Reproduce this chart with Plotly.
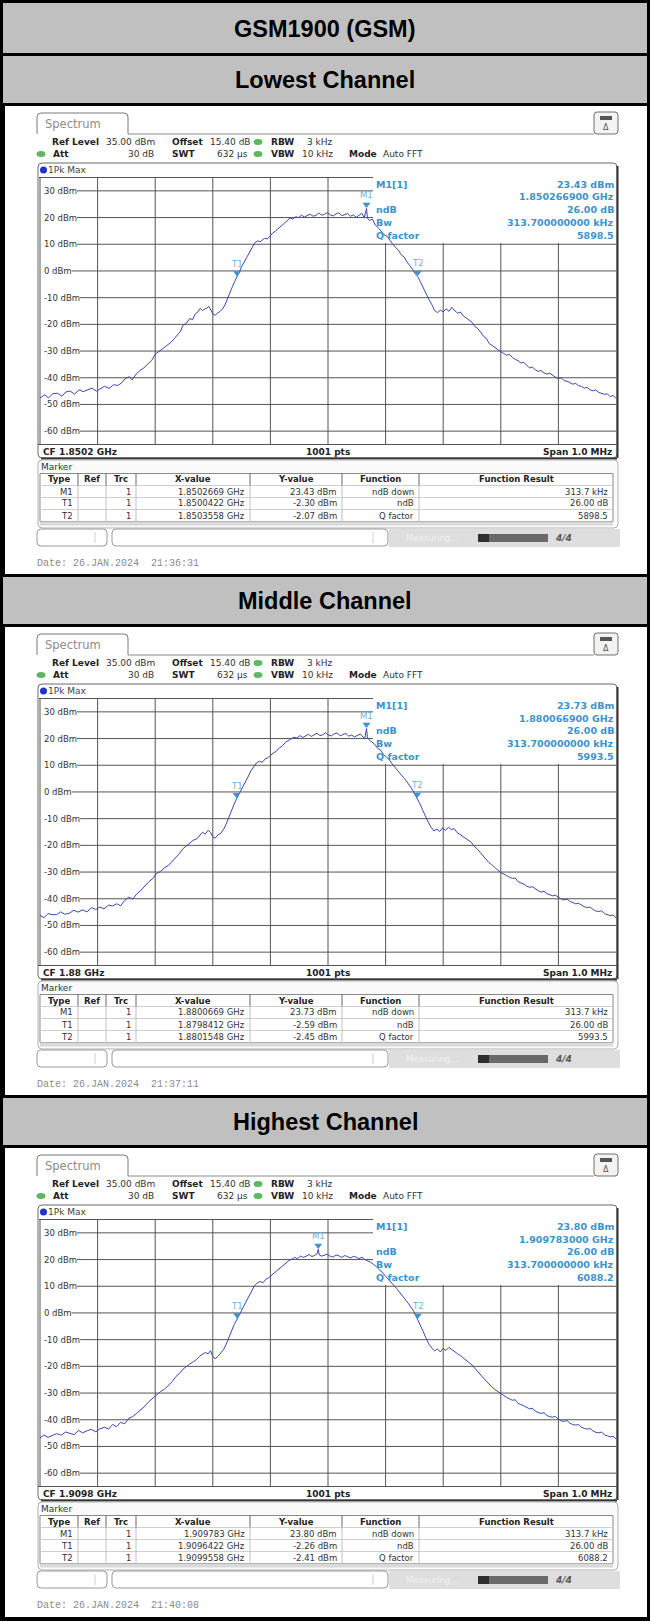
import plotly.graph_objects as go

# ======================= DATA =======================
MAIN_TITLE = "GSM1900 (GSM)"
PANEL_TITLES = ["Lowest Channel", "Middle Channel", "Highest Channel"]
CF_LABELS = ["CF 1.8502 GHz", "CF 1.88 GHz", "CF 1.9098 GHz"]
POINTS_LABEL = "1001 pts"
SPAN_LABEL = "Span 1.0 MHz"
DATES = ["Date: 26.JAN.2024  21:36:31", "Date: 26.JAN.2024  21:37:11", "Date: 26.JAN.2024  21:40:08"]

REF_LEVEL = 35
Y_BOTTOM = -65
Y_TICKS = [30, 20, 10, 0, -10, -20, -30, -40, -50, -60]
Y_TICK_LABELS = ["30 dBm", "20 dBm", "10 dBm", "0 dBm", "-10 dBm", "-20 dBm",
                 "-30 dBm", "-40 dBm", "-50 dBm", "-60 dBm"]
X_TICKS_KHZ = [-400, -300, -200, -100, 0, 100, 200, 300, 400]

# trace 1 (Lowest) : offset from CF in kHz, level in dBm
LOW_F = [-500, -492, -485, -478, -470, -462, -455, -448, -440, -432, -425, -418, -410, -402, -395,
         -388, -380, -372, -365, -358, -352, -345, -340, -333, -326, -320, -313, -306, -300, -294,
         -288, -281, -274, -268, -262, -256, -252, -246, -240, -235, -231, -226, -222, -218, -214,
         -210, -207, -204, -200, -196, -192, -187, -183, -179, -175, -171, -166, -162, -157.8, -154,
         -150, -146, -141, -136, -131, -127, -122, -118, -114, -110, -105, -101, -96, -91, -86,
         -81, -76, -71, -66, -61, -56, -51, -46, -41, -36, -31, -26, -21, -16, -11,
         -6, -1, 4, 9, 14, 19, 24, 29, 34, 39, 44, 49, 54, 59, 63,
         66.9, 68.5, 72, 77, 82, 87, 92, 97, 102, 107, 112, 117, 122, 127, 132,
         137, 142, 147, 152, 155.8, 160, 165, 170, 175, 180, 185, 190, 195, 200, 205,
         210, 215, 220, 225, 230, 235, 240, 245, 250, 255, 260, 265, 270, 275, 280,
         285, 290, 295, 300, 305, 310, 315, 320, 325, 330, 335, 340, 345, 350, 355,
         360, 365, 370, 375, 380, 385, 390, 395, 400, 405, 410, 415, 420, 425, 430,
         435, 440, 445, 450, 455, 460, 465, 470, 475, 480, 485, 490, 495, 500]
LOW_DB = [-47.6, -46.4, -47.5, -46.0, -45.8, -46.9, -45.3, -45.0, -46.1, -44.5, -45.2, -44.7, -43.9, -45.0, -44.1,
          -43.2, -44.0, -42.6, -42.9, -41.9, -40.3, -39.6, -40.8, -38.6, -37.2, -36.4, -34.8, -33.5, -31.2, -30.4,
          -29.3, -28.1, -27.0, -25.6, -23.9, -22.6, -20.4, -19.6, -17.8, -18.3, -16.2, -15.4, -14.0, -14.8, -14.3,
          -13.9, -13.2, -14.6, -16.0, -16.7, -15.8, -15.1, -14.2, -12.8, -10.5, -8.6, -5.9, -3.9, -2.30, -0.4,
          1.6, 3.1, 5.3, 7.4, 9.2, 10.6, 11.3, 10.9, 11.6, 12.2, 12.0, 13.1, 14.2, 15.0, 15.8,
          16.9, 17.8, 18.9, 19.8, 19.4, 20.3, 20.0, 20.9, 20.2, 20.6, 21.3, 20.5, 20.8, 21.7, 20.9,
          21.2, 21.9, 21.0, 20.6, 21.4, 21.8, 20.7, 21.2, 21.5, 20.5, 21.0, 20.1, 20.9, 21.6, 19.9,
          23.43, 19.8, 18.9, 19.4, 17.2, 16.3, 14.8, 13.6, 13.1, 11.4, 10.2, 8.9, 7.8, 6.1, 5.2,
          3.4, 2.1, 0.6, -1.2, -2.07, -3.9, -6.3, -8.4, -10.6, -12.5, -14.8, -15.6, -14.7, -15.3, -14.2,
          -15.1, -13.6, -14.9, -15.8, -15.4, -16.9, -17.6, -18.3, -19.2, -20.8, -21.6, -22.9, -24.5, -25.3, -27.2,
          -27.9, -28.8, -29.6, -30.3, -30.9, -31.6, -31.2, -32.4, -33.1, -33.6, -34.5, -34.2, -35.4, -36.3, -36.0,
          -37.1, -37.6, -37.3, -38.2, -38.6, -38.3, -39.2, -39.8, -40.3, -40.0, -41.1, -41.3, -41.8, -42.4, -42.1,
          -43.0, -43.2, -43.9, -43.6, -44.5, -44.9, -44.6, -45.5, -45.9, -46.2, -46.0, -47.1, -46.6, -47.8]

# trace 2 (Middle)
MID_F = [-500, -493, -486, -479, -471, -464, -457, -449, -441, -434, -426, -418, -411, -403, -396,
         -389, -381, -374, -367, -360, -353, -346, -339, -332, -325, -318, -311, -304, -298, -291,
         -284, -277, -270, -264, -258, -252, -246, -240, -234, -228, -223, -218, -213, -208, -204,
         -200, -196, -191, -186, -181, -177, -173, -168, -163, -158.8, -154, -149, -144, -139, -134,
         -129, -124, -119, -114, -109, -104, -99, -94, -89, -84, -79, -74, -69, -64, -59,
         -54, -49, -44, -39, -34, -29, -24, -19, -14, -9, -4, 1, 6, 11, 16,
         21, 26, 31, 36, 41, 46, 51, 56, 61, 64, 66.9, 68.5, 72, 76, 81,
         86, 91, 96, 101, 106, 111, 116, 121, 126, 131, 136, 141, 146, 150, 154.8,
         159, 164, 169, 174, 179, 184, 189, 194, 199, 204, 209, 214, 219, 224, 229,
         234, 239, 244, 249, 254, 259, 264, 269, 274, 279, 284, 289, 294, 300, 305,
         310, 315, 320, 325, 330, 335, 340, 345, 350, 355, 360, 365, 370, 375, 380,
         385, 390, 395, 400, 405, 410, 415, 420, 425, 430, 435, 440, 445, 450, 455,
         460, 465, 470, 475, 480, 485, 490, 495, 500]
MID_DB = [-46.2, -47.1, -45.5, -46.0, -45.9, -44.9, -45.8, -45.4, -44.3, -45.0, -44.2, -44.9, -43.3, -44.0, -43.1,
          -43.8, -42.4, -42.7, -41.9, -42.6, -40.6, -39.4, -40.1, -38.2, -36.9, -35.1, -33.6, -32.4, -30.6, -29.8,
          -28.4, -27.5, -25.9, -24.2, -23.1, -21.3, -20.2, -19.4, -18.1, -17.6, -16.4, -15.1, -15.8, -14.3, -15.2,
          -16.8, -17.3, -16.1, -15.4, -13.9, -12.1, -9.8, -7.2, -4.6, -2.59, -0.7, 1.2, 3.5, 5.6, 7.9,
          9.6, 10.9, 11.5, 11.1, 12.4, 12.8, 13.9, 14.6, 15.4, 16.6, 17.3, 18.6, 19.2, 19.9, 20.5,
          20.2, 21.1, 20.4, 20.9, 21.6, 20.8, 21.3, 22.0, 21.1, 21.4, 22.2, 21.3, 21.0, 21.8, 22.1,
          21.0, 21.5, 21.9, 20.9, 21.3, 20.6, 21.2, 21.7, 20.5, 20.2, 23.73, 20.3, 19.4, 18.6, 17.9,
          16.4, 15.7, 14.1, 13.3, 12.2, 10.6, 9.4, 8.1, 6.9, 5.4, 4.1, 2.7, 1.0, -0.6, -2.45,
          -4.2, -6.6, -9.1, -11.3, -13.2, -14.6, -13.9, -14.8, -13.5, -14.4, -13.2, -14.1, -13.7, -15.2, -15.9,
          -16.6, -17.4, -18.2, -18.9, -20.4, -21.3, -22.6, -23.9, -25.1, -26.4, -27.2, -28.3, -29.1, -30.2, -30.6,
          -31.3, -31.9, -32.4, -32.2, -33.6, -34.1, -34.5, -35.3, -35.7, -35.5, -36.4, -37.0, -37.5, -37.2, -38.1,
          -38.6, -38.9, -38.7, -39.5, -40.1, -40.4, -40.2, -41.0, -41.6, -41.9, -41.7, -42.5, -43.0, -43.3, -43.1,
          -44.0, -44.6, -44.8, -44.5, -45.6, -45.9, -46.3, -46.1, -47.1]

# trace 3 (Highest)
HIGH_F = [-500, -493, -486, -478, -471, -463, -456, -448, -441, -433, -426, -418, -411, -403, -396,
          -388, -381, -374, -367, -360, -353, -346, -339, -332, -325, -318, -311, -304, -298, -291,
          -284, -277, -270, -264, -258, -252, -246, -240, -234, -228, -223, -218, -213, -208, -204,
          -200, -196, -191, -186, -181, -177, -173, -168, -163, -157.8, -153, -148, -143, -138, -133,
          -128, -123, -118, -113, -108, -103, -98, -93, -88, -83, -78, -73, -68, -63, -58,
          -53, -48, -43, -38, -33, -28, -23, -19, -17, -15, -11, -6, -1, 4, 9,
          14, 19, 24, 29, 34, 39, 44, 49, 54, 59, 64, 69, 74, 79, 84,
          89, 94, 99, 104, 109, 114, 119, 124, 129, 134, 139, 144, 149, 152, 155.8,
          160, 165, 170, 175, 180, 185, 190, 195, 200, 205, 210, 215, 220, 225, 230,
          235, 240, 245, 250, 255, 260, 265, 270, 275, 280, 285, 290, 295, 300, 305,
          310, 315, 320, 325, 330, 335, 340, 345, 350, 355, 360, 365, 370, 375, 380,
          385, 390, 395, 400, 405, 410, 415, 420, 425, 430, 435, 440, 445, 450, 455,
          460, 465, 470, 475, 480, 485, 490, 495, 500]
HIGH_DB = [-46.8, -45.7, -46.6, -45.9, -45.2, -45.8, -44.6, -45.1, -45.6, -44.0, -44.9, -44.1, -43.6, -44.5, -43.4,
           -42.8, -43.5, -41.8, -42.6, -41.0, -41.5, -39.5, -38.8, -37.6, -36.3, -34.9, -33.2, -31.9, -30.8, -29.5,
           -28.6, -27.2, -25.6, -23.8, -22.7, -21.1, -20.0, -19.1, -18.3, -17.4, -16.2, -15.6, -14.8, -15.3, -14.1,
           -16.4, -17.1, -16.3, -15.0, -13.6, -11.8, -9.5, -6.9, -4.4, -2.26, -0.2, 1.9, 3.8, 6.0, 8.2,
           10.1, 11.2, 11.8, 11.3, 12.6, 13.2, 14.1, 15.2, 16.0, 17.1, 18.0, 18.7, 19.6, 20.1, 20.8,
           20.3, 21.3, 20.8, 21.2, 21.9, 21.1, 21.6, 22.1, 23.80, 21.7, 21.3, 21.8, 22.0, 21.2, 20.9,
           21.7, 21.4, 20.8, 21.5, 21.1, 20.6, 21.2, 20.9, 20.3, 20.9, 20.0, 19.6, 19.0, 18.2, 17.4,
           16.2, 15.3, 14.0, 12.9, 11.7, 10.3, 9.2, 7.8, 6.6, 5.1, 3.7, 2.2, 0.6, -0.8, -2.41,
           -4.3, -6.8, -9.4, -11.6, -13.1, -14.2, -13.5, -14.6, -13.3, -14.0, -12.9, -13.8, -14.6, -15.3, -16.0,
           -16.8, -17.7, -18.6, -19.5, -20.7, -21.8, -23.0, -24.4, -25.6, -26.9, -27.8, -28.7, -29.5, -30.4, -30.9,
           -31.6, -32.1, -32.7, -32.5, -33.9, -34.3, -34.8, -35.6, -35.9, -35.7, -36.8, -37.3, -37.6, -37.4, -38.4,
           -38.9, -39.0, -38.8, -39.8, -40.4, -40.6, -40.3, -41.3, -41.8, -42.0, -41.8, -42.8, -43.2, -43.5, -43.3,
           -44.2, -44.7, -44.9, -44.6, -45.7, -46.0, -46.4, -46.2, -47.2]

TRACES_F = [LOW_F, MID_F, HIGH_F]
TRACES_DB = [LOW_DB, MID_DB, HIGH_DB]

# markers (offset kHz from CF, level dBm)
MARKER_NAMES = ["M1", "T1", "T2"]
LOW_MARK_F = [66.9, -157.8, 155.8]
LOW_MARK_DB = [23.43, -2.30, -2.07]
MID_MARK_F = [66.9, -158.8, 154.8]
MID_MARK_DB = [23.73, -2.59, -2.45]
HIGH_MARK_F = [-17.0, -157.8, 155.8]
HIGH_MARK_DB = [23.80, -2.26, -2.41]
MARK_F = [LOW_MARK_F, MID_MARK_F, HIGH_MARK_F]
MARK_DB = [LOW_MARK_DB, MID_MARK_DB, HIGH_MARK_DB]

INFO_LABELS = ["M1[1]", "", "ndB", "Bw", "Q factor"]
LOW_INFO = ["23.43 dBm", "1.850266900 GHz", "26.00 dB", "313.700000000 kHz", "5898.5"]
MID_INFO = ["23.73 dBm", "1.880066900 GHz", "26.00 dB", "313.700000000 kHz", "5993.5"]
HIGH_INFO = ["23.80 dBm", "1.909783000 GHz", "26.00 dB", "313.700000000 kHz", "6088.2"]
INFO = [LOW_INFO, MID_INFO, HIGH_INFO]

TABLE_HEAD = ["Type", "Ref", "Trc", "X-value", "Y-value", "Function", "Function Result"]
LOW_ROWS = [["M1", "", "1", "1.8502669 GHz", "23.43 dBm", "ndB down", "313.7 kHz"],
            ["T1", "", "1", "1.8500422 GHz", "-2.30 dBm", "ndB", "26.00 dB"],
            ["T2", "", "1", "1.8503558 GHz", "-2.07 dBm", "Q factor", "5898.5"]]
MID_ROWS = [["M1", "", "1", "1.8800669 GHz", "23.73 dBm", "ndB down", "313.7 kHz"],
            ["T1", "", "1", "1.8798412 GHz", "-2.59 dBm", "ndB", "26.00 dB"],
            ["T2", "", "1", "1.8801548 GHz", "-2.45 dBm", "Q factor", "5993.5"]]
HIGH_ROWS = [["M1", "", "1", "1.909783 GHz", "23.80 dBm", "ndB down", "313.7 kHz"],
             ["T1", "", "1", "1.9096422 GHz", "-2.26 dBm", "ndB", "26.00 dB"],
             ["T2", "", "1", "1.9099558 GHz", "-2.41 dBm", "Q factor", "6088.2"]]
ROWS = [LOW_ROWS, MID_ROWS, HIGH_ROWS]

# ======================= LAYOUT HELPERS =======================
W, H = 650, 1621
STEP = 521
GX0, GX1 = 40, 616          # grid area (px)
GY0, GY1 = 177.5, 444.5
BLANK_X, BLANK_Y = 373, 243  # marker-info region (no grid)

UI = "DejaVu Sans"
TRACE_COLOR = "#3848ad"
MARK_COLOR = "#3b95cf"
INFO_COLOR = "#3d93c8"
GRID = "#555555"

def X(p):
    return p / W

def Y(p):
    return 1 - p / H

shapes, annos = [], []

def rect(x0, y0, x1, y1, fill, line=None, lw=0):
    shapes.append(dict(type="rect", xref="paper", yref="paper", layer="below",
                       x0=X(x0), x1=X(x1), y0=Y(y1), y1=Y(y0), fillcolor=fill,
                       line=dict(color=line or "rgba(0,0,0,0)", width=lw)))

def seg(x0, y0, x1, y1, color, lw=1):
    shapes.append(dict(type="line", xref="paper", yref="paper", layer="below",
                       x0=X(x0), x1=X(x1), y0=Y(y0), y1=Y(y1),
                       line=dict(color=color, width=lw)))

def rbox(x0, y0, x1, y1, r, fill, line, lw=1):
    d = (f"M{X(x0 + r)},{Y(y0)} L{X(x1 - r)},{Y(y0)} Q{X(x1)},{Y(y0)} {X(x1)},{Y(y0 + r)} "
         f"L{X(x1)},{Y(y1 - r)} Q{X(x1)},{Y(y1)} {X(x1 - r)},{Y(y1)} L{X(x0 + r)},{Y(y1)} "
         f"Q{X(x0)},{Y(y1)} {X(x0)},{Y(y1 - r)} L{X(x0)},{Y(y0 + r)} Q{X(x0)},{Y(y0)} {X(x0 + r)},{Y(y0)} Z")
    shapes.append(dict(type="path", xref="paper", yref="paper", layer="below", path=d,
                       fillcolor=fill, line=dict(color=line, width=lw)))

def tab(x0, y0, x1, y1, r, line):
    d = (f"M{X(x0)},{Y(y1)} L{X(x0)},{Y(y0 + r)} Q{X(x0)},{Y(y0)} {X(x0 + r)},{Y(y0)} "
         f"L{X(x1 - r)},{Y(y0)} Q{X(x1)},{Y(y0)} {X(x1)},{Y(y0 + r)} L{X(x1)},{Y(y1)}")
    shapes.append(dict(type="path", xref="paper", yref="paper", layer="below", path=d,
                       line=dict(color=line, width=1)))

def dot(cx, cy, rx, ry, color):
    shapes.append(dict(type="circle", xref="paper", yref="paper", layer="below",
                       x0=X(cx - rx), x1=X(cx + rx), y0=Y(cy + ry), y1=Y(cy - ry),
                       fillcolor=color, line=dict(width=0)))

def txt(x, y, s, size=9, color="#222", bold=False, anchor="left", family=UI):
    annos.append(dict(xref="paper", yref="paper", x=X(x), y=Y(y),
                      text=f"<b>{s}</b>" if bold else s, showarrow=False,
                      xanchor=anchor, yanchor="middle", borderpad=0,
                      font=dict(size=size, color=color, family=family)))

CHAR_W = {"-": 0.361, " ": 0.318, "d": 0.635, "B": 0.686, "m": 0.974}

def text_w(s, size):
    return sum(CHAR_W.get(c, 0.636) for c in s) * size

# ======================= BUILD =======================
rect(0, 0, W, H, "#000")
rect(3, 3, 647, 53, "#c0c0c0")
txt(325, 29, MAIN_TITLE, 23.5, "#000", True, "center", "Liberation Sans")

fig = go.Figure()
layout_axes = {}

for k in range(3):
    o = STEP * k
    rect(3, 56 + o, 647, 103 + o, "#c0c0c0")
    txt(325, 80 + o, PANEL_TITLES[k], 23.5, "#000", True, "center", "Liberation Sans")
    rect(5, 106 + o, 647, (574 + o) if k < 2 else 1617, "#ffffff")

    # --- Spectrum tab & header ---
    tab(37, 113 + o, 128, 134 + o, 4, "#7a7a7a")
    seg(128, 134 + o, 594, 134 + o, "#8a8a8a")
    rbox(594, 112 + o, 618, 134 + o, 3, "#f3f3f3", "#707070")
    rect(600, 116 + o, 612, 120 + o, "#555")
    txt(606, 127.5 + o, "Δ", 8, "#555", False, "center")
    txt(44, 124 + o, "Spectrum", 11.5, "#8c8c8c")

    txt(51, 142 + o, "Ref Level", 9, "#222", True)
    txt(105, 142 + o, "35.00 dBm", 9, "#333")
    txt(171, 142 + o, "Offset", 9, "#222", True)
    txt(209, 142 + o, "15.40 dB", 9, "#333")
    dot(258, 142 + o, 4.5, 3, "#5fb85f")
    txt(270, 142 + o, "RBW", 9, "#222", True)
    txt(306, 142 + o, "3 kHz", 9, "#333")

    dot(41, 154 + o, 4.5, 3, "#5fb85f")
    txt(52, 154 + o, "Att", 9, "#222", True)
    txt(155, 154 + o, "30 dB", 9, "#333", False, "right")
    txt(171, 154 + o, "SWT", 9, "#222", True)
    txt(249, 154 + o, "632 µs", 9, "#333", False, "right")
    dot(258, 154 + o, 4.5, 3, "#5fb85f")
    txt(270, 154 + o, "VBW", 9, "#222", True)
    txt(301, 154 + o, "10 kHz", 9, "#333")
    txt(348, 154 + o, "Mode", 9, "#222", True)
    txt(382, 154 + o, "Auto FFT", 9, "#333")

    # --- trace frame ---
    rbox(38, 163 + o, 617, 458 + o, 4, "#ffffff", "#6a6a6a", 1)
    seg(617.5, 166 + o, 617.5, 458 + o, "#333", 2)
    seg(41, 458.5 + o, 617, 458.5 + o, "#333", 2)
    dot(43.5, 170 + o, 3.5, 3.5, "#2035c8")
    txt(47, 170 + o, "1Pk Max", 9, "#444")

    def gy(v):
        return GY0 + o + (REF_LEVEL - v) / (REF_LEVEL - Y_BOTTOM) * (GY1 - GY0)

    def gx(f):
        return GX0 + (f + 500) / 1000 * (GX1 - GX0)

    seg(39, GY0 + o, BLANK_X, GY0 + o, GRID)
    seg(38, GY1 + o, 617, GY1 + o, GRID)
    seg(GX0, GY0 + o, GX0, GY1 + o, GRID)
    for v, lab in zip(Y_TICKS, Y_TICK_LABELS):
        yy = gy(v)
        xs = 43 + text_w(lab, 8.5) + 1
        xe = BLANK_X if yy < BLANK_Y + o else GX1
        seg(xs, yy, xe, yy, GRID)
        txt(43, yy, lab, 8.5, "#333")
    for f in X_TICKS_KHZ:
        xx = gx(f)
        ys = (BLANK_Y + o) if xx > BLANK_X else GY0 + o
        seg(xx, ys, xx, GY1 + o, GRID)

    txt(42, 451.5 + o, CF_LABELS[k], 9, "#222", True)
    txt(328, 451.5 + o, POINTS_LABEL, 9, "#222", True, "center")
    txt(613, 451.5 + o, SPAN_LABEL, 9, "#222", True, "right")

    # marker info block
    info_y = [184, 197, 209, 222, 235]
    for lab, val, yy in zip(INFO_LABELS, INFO[k], info_y):
        if lab:
            txt(375, yy + o, lab, 9.5, INFO_COLOR, True)
        txt(615, yy + o, val, 9.5, INFO_COLOR, True, "right")

    # --- marker table ---
    rbox(38, 460 + o, 618, 528 + o, 4, "#fbfbfb", "#b0b0b0", 1)
    txt(40, 466.5 + o, "Marker", 9, "#333")
    rect(40, 473.5 + o, 613, 521.5 + o, "#ffffff", "#8a8a8a", 1)
    rect(40, 521.5 + o, 613, 525.5 + o, "#d9d9d9")
    for ry in [485.5, 497.5, 509.5]:
        seg(40, ry + o, 613, ry + o, "#cfcfcf")
    cols = [40, 78, 106, 136, 250, 342, 419, 613]
    for cx in cols[1:-1]:
        seg(cx, 473.5 + o, cx, 485.5 + o, "#666")
        seg(cx, 485.5 + o, cx, 521.5 + o, "#c0c0c0")
    for i, h in enumerate(TABLE_HEAD):
        txt((cols[i] + cols[i + 1]) / 2, 479.5 + o, h, 8.5, "#222", True, "center")
    right_x = [74, 102, 132, 246, 338, 415, 609]
    for r, row in enumerate(ROWS[k]):
        for i, cell in enumerate(row):
            if cell:
                txt(right_x[i], 491.5 + 12 * r + o, cell, 8.5, "#333", False, "right")

    # --- bottom bar ---
    rbox(37, 529 + o, 107, 546 + o, 4, "#ffffff", "#9a9a9a")
    seg(95, 532 + o, 95, 543 + o, "#d0d0d0")
    rbox(112, 529 + o, 388, 546 + o, 4, "#ffffff", "#9a9a9a")
    seg(373, 532 + o, 373, 543 + o, "#d0d0d0")
    rect(389, 529 + o, 620, 547 + o, "#dedede")
    txt(405, 538 + o, "Measuring...", 8.5, "#f2f2f2")
    rect(478, 534 + o, 548, 542 + o, "#6a6a6a")
    rect(478, 534 + o, 489, 542 + o, "#2f2f2f")
    txt(554, 538 + o, "<i>4/4</i>", 9, "#5a5a5a", True)

    txt(36, 563 + o, DATES[k], 10, "#8a8a8a", False, "left", "Liberation Mono")

    # --- axes & traces ---
    sfx = "" if k == 0 else str(k + 1)
    xa, ya = "x" + sfx, "y" + sfx
    layout_axes["xaxis" + sfx] = dict(domain=[X(GX0), X(GX1)], range=[-500, 500], visible=False,
                                      fixedrange=True, anchor=ya)
    layout_axes["yaxis" + sfx] = dict(domain=[Y(GY1 + o), Y(GY0 + o)], range=[Y_BOTTOM, REF_LEVEL],
                                      visible=False, fixedrange=True, anchor=xa)
    fig.add_trace(go.Scatter(x=TRACES_F[k], y=TRACES_DB[k], mode="lines", xaxis=xa, yaxis=ya,
                             line=dict(color=TRACE_COLOR, width=1), hoverinfo="skip"))
    fig.add_trace(go.Scatter(x=MARK_F[k], y=[v + 1.5 for v in MARK_DB[k]], mode="markers",
                             xaxis=xa, yaxis=ya, hoverinfo="skip",
                             marker=dict(symbol="triangle-down", size=7, color=MARK_COLOR)))
    for name, f, v in zip(MARKER_NAMES, MARK_F[k], MARK_DB[k]):
        annos.append(dict(xref=xa, yref=ya, x=f, y=v, text=name, showarrow=False,
                          yshift=13, xanchor="center", yanchor="middle",
                          font=dict(size=8.5, color="#6fb2d8", family=UI)))

fig.update_layout(width=W, height=H, margin=dict(l=0, r=0, t=0, b=0), autosize=False,
                  paper_bgcolor="#ffffff", plot_bgcolor="rgba(0,0,0,0)", showlegend=False,
                  hovermode=False, shapes=shapes, annotations=annos, **layout_axes)
fig.write_html("out.html", config={"displayModeBar": False, "staticPlot": True},
               post_script="document.body.style.margin='0';"
                           "document.documentElement.style.overflow='hidden';")
